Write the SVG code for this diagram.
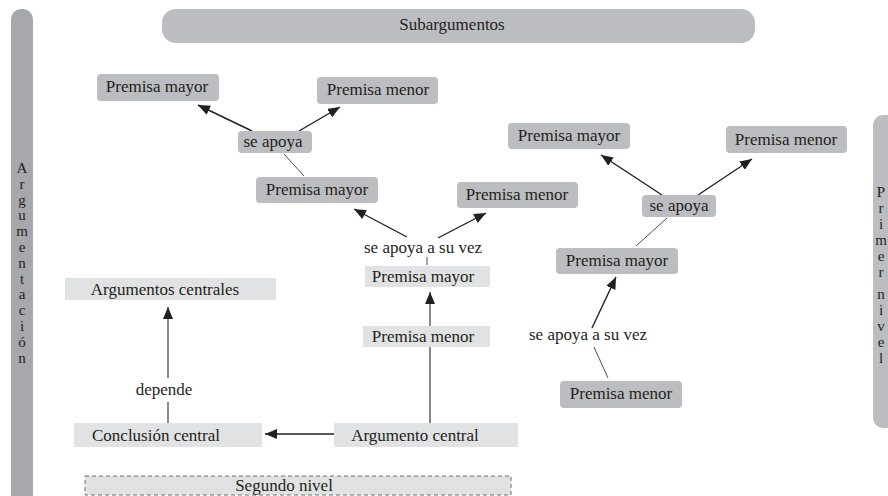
<svg xmlns="http://www.w3.org/2000/svg" width="888" height="496" viewBox="0 0 888 496" font-family="'Liberation Serif', 'Times New Roman', 'DejaVu Serif', serif">
<defs>
<style>
text{font-family:"Liberation Serif","Times New Roman","DejaVu Serif",serif;font-size:17px;fill:#231f20;}
.dk{fill:#bcbdc0;}
.lt{fill:#e1e2e3;}
.bar{fill:#a7a8ab;}
.c{stroke:#231f20;stroke-width:1.4;fill:none;}
.t{stroke:#231f20;stroke-width:0.8;fill:none;}
.g{stroke:#555658;stroke-width:1.4;fill:none;}
.vl{font-size:15px;}
.vr{font-size:15px;}
</style>
<marker id="ah" viewBox="0 0 12 10" markerWidth="12" markerHeight="10" refX="12" refY="5" orient="auto" markerUnits="userSpaceOnUse">
<path d="M0,0 L12,5 L0,10 z" fill="#231f20"/>
</marker>
</defs>
<rect width="888" height="496" fill="#ffffff"/>

<g id="bar-argumentacion">
<rect class="bar" x="11" y="9" width="22" height="500" rx="10"/>
<text class="vl" text-anchor="middle" font-family="Liberation Serif, serif">
<tspan x="22" y="173">A</tspan><tspan x="22" y="189">r</tspan><tspan x="22" y="205">g</tspan><tspan x="22" y="220">u</tspan><tspan x="22" y="236">m</tspan><tspan x="22" y="252">e</tspan><tspan x="22" y="268">n</tspan><tspan x="22" y="284">t</tspan><tspan x="22" y="299">a</tspan><tspan x="22" y="315">c</tspan><tspan x="22" y="331">i</tspan><tspan x="22" y="347">ó</tspan><tspan x="22" y="363">n</tspan>
</text>
</g>

<g id="bar-primer-nivel">
<rect class="dk" x="873" y="115" width="30" height="313" rx="10"/>
<text class="vr" text-anchor="middle">
<tspan x="881" y="197">P</tspan><tspan x="881" y="213">r</tspan><tspan x="881" y="229">i</tspan><tspan x="881" y="245">m</tspan><tspan x="881" y="261">e</tspan><tspan x="881" y="277">r</tspan><tspan x="881" y="299">n</tspan><tspan x="881" y="315">i</tspan><tspan x="881" y="331">v</tspan><tspan x="881" y="347">e</tspan><tspan x="881" y="363">l</tspan>
</text>
</g>

<g id="subargumentos">
<rect class="dk" x="162" y="9" width="593" height="34" rx="14"/>
<text x="452" y="30" text-anchor="middle">Subargumentos</text>
</g>

<g id="connectors">
<line class="c" x1="252" y1="131" x2="198" y2="105" marker-end="url(#ah)"/>
<line class="c" x1="299" y1="131" x2="340" y2="107" marker-end="url(#ah)"/>
<line class="t" x1="304" y1="176" x2="284" y2="154"/>
<line class="c" x1="407" y1="237" x2="354" y2="209" marker-end="url(#ah)"/>
<line class="c" x1="438" y1="238" x2="486" y2="213" marker-end="url(#ah)"/>
<line class="t" x1="427" y1="257" x2="427" y2="265"/>
<line class="g" x1="430" y1="326" x2="430" y2="292" marker-end="url(#ah)"/>
<line class="g" x1="430" y1="347" x2="430" y2="423"/>
<line class="c" x1="334" y1="434" x2="265" y2="434" marker-end="url(#ah)"/>
<line class="g" x1="168" y1="423" x2="168" y2="402"/>
<line class="g" x1="168" y1="378" x2="168" y2="307" marker-end="url(#ah)"/>
<line class="c" x1="662" y1="195" x2="601" y2="155" marker-end="url(#ah)"/>
<line class="c" x1="698" y1="195" x2="752" y2="159" marker-end="url(#ah)"/>
<line class="t" x1="636" y1="246" x2="667" y2="218"/>
<line class="c" x1="592" y1="328" x2="616" y2="277" marker-end="url(#ah)"/>
<line class="t" x1="608" y1="378" x2="594" y2="347"/>
</g>

<g id="premisa-mayor-1">
<rect class="dk" x="97" y="74" width="122" height="27" rx="4"/>
<text x="157" y="92" text-anchor="middle">Premisa mayor</text>
</g>
<g id="premisa-menor-1">
<rect class="dk" x="317" y="77" width="121" height="27" rx="4"/>
<text x="378" y="95" text-anchor="middle">Premisa menor</text>
</g>
<g id="se-apoya-1">
<rect class="dk" x="238" y="131" width="74" height="22" rx="4"/>
<text x="273" y="147" text-anchor="middle">se apoya</text>
</g>
<g id="premisa-mayor-2">
<rect class="dk" x="256" y="177" width="122" height="26" rx="4"/>
<text x="317" y="195" text-anchor="middle">Premisa mayor</text>
</g>
<g id="premisa-menor-2">
<rect class="dk" x="457" y="182" width="121" height="26" rx="4"/>
<text x="517" y="200" text-anchor="middle">Premisa menor</text>
</g>
<g id="se-apoya-a-su-vez-1">
<text x="423" y="253" text-anchor="middle">se apoya a su vez</text>
</g>
<g id="premisa-mayor-3">
<rect class="lt" x="365" y="266" width="125" height="21"/>
<text x="423" y="282" text-anchor="middle">Premisa mayor</text>
</g>
<g id="premisa-menor-3">
<rect class="lt" x="363" y="326" width="127" height="21"/>
<text x="423" y="342" text-anchor="middle">Premisa menor</text>
</g>
<g id="argumento-central">
<rect class="lt" x="334" y="423" width="184" height="24"/>
<text x="415" y="441" text-anchor="middle">Argumento central</text>
</g>
<g id="conclusion-central">
<rect class="lt" x="74" y="423" width="188" height="24"/>
<text x="156" y="441" text-anchor="middle">Conclusión central</text>
</g>
<g id="argumentos-centrales">
<rect class="lt" x="65" y="278" width="211" height="22"/>
<text x="165" y="295" text-anchor="middle">Argumentos centrales</text>
</g>
<g id="depende">
<text x="164" y="395" text-anchor="middle">depende</text>
</g>
<g id="segundo-nivel">
<rect x="85" y="476" width="426" height="19" fill="#e1e2e3" stroke="#6d6e70" stroke-width="1" stroke-dasharray="4 3"/>
<text x="284" y="491" text-anchor="middle">Segundo nivel</text>
</g>

<g id="premisa-mayor-4">
<rect class="dk" x="508" y="123" width="122" height="26" rx="4"/>
<text x="569" y="141" text-anchor="middle">Premisa mayor</text>
</g>
<g id="premisa-menor-4">
<rect class="dk" x="726" y="126" width="121" height="27" rx="4"/>
<text x="786" y="145" text-anchor="middle">Premisa menor</text>
</g>
<g id="se-apoya-2">
<rect class="dk" x="642" y="195" width="74" height="22" rx="4"/>
<text x="679" y="211" text-anchor="middle">se apoya</text>
</g>
<g id="premisa-mayor-5">
<rect class="dk" x="556" y="248" width="122" height="26" rx="4"/>
<text x="617" y="266" text-anchor="middle">Premisa mayor</text>
</g>
<g id="se-apoya-a-su-vez-2">
<text x="588" y="340" text-anchor="middle">se apoya a su vez</text>
</g>
<g id="premisa-menor-5">
<rect class="dk" x="560" y="381" width="122" height="27" rx="4"/>
<text x="621" y="399" text-anchor="middle">Premisa menor</text>
</g>
</svg>
